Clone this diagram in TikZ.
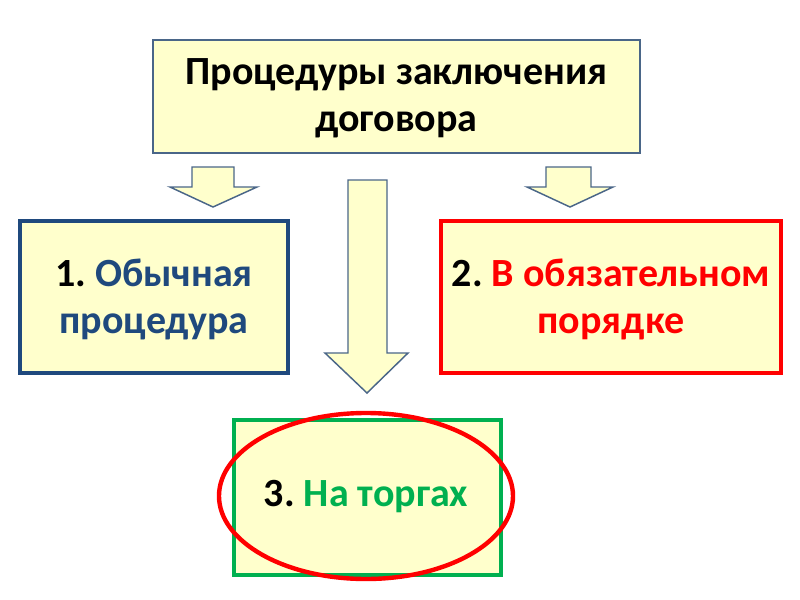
\documentclass[tikz,border=0pt]{standalone}
\usepackage{fontspec}
\setmainfont{Carlito}
\frenchspacing
\definecolor{fillY}{HTML}{FFFFCC}
\definecolor{grayblue}{HTML}{4A6688}
\definecolor{dblue}{HTML}{1F497D}
\definecolor{bred}{HTML}{FF0000}
\definecolor{bgreen}{HTML}{00B050}
\begin{document}
\begin{tikzpicture}[x=0.75pt,y=-0.75pt,
  thinbox/.style={draw=grayblue,fill=fillY,line width=1.2pt},
  thickbox/.style={fill=fillY,line width=3.3pt},
  blockarrow/.style={draw=grayblue,fill=fillY,line width=1.1pt,line join=miter},
  label/.style={font=\fontsize{30}{35.25}\selectfont\bfseries,align=center,inner sep=0pt}]
\useasboundingbox[fill=white] (0,0) rectangle (800,600);
% boxes
\draw[thinbox] (153,40) rectangle (640,153);
\node[label] (top) at (396.5,98) {Процедуры заключения\\договора};
\draw[thickbox,draw=dblue] (20,221) rectangle (288,373);
\node[label] (one) at (154,299) {1. \textcolor{dblue}{Обычная}\\\textcolor{dblue}{процедура}};
\draw[thickbox,draw=bred] (441,221) rectangle (781,373);
\node[label] (two) at (611,299) {2. \textcolor{bred}{В обязательном}\\\textcolor{bred}{порядке}};
\draw[thickbox,draw=bgreen] (234,420) rectangle (501,575);
\node[label] (three) at (366,497) {3. \textcolor{bgreen}{На торгах}};
\draw[draw=bred,line width=3.3pt] (366,496) ellipse [x radius=147, y radius=83];
% arrows
\draw[blockarrow] (192,167) -- (234,167) -- (234,187) -- (257,187) -- (213,207) -- (170,187) -- (192,187) -- cycle;
\draw[blockarrow] (546,167) -- (591,167) -- (591,187) -- (613,187) -- (570,207) -- (527,187) -- (546,187) -- cycle;
\draw[blockarrow] (348,180) -- (387,180) -- (387,353) -- (408,353) -- (367,393) -- (325,353) -- (348,353) -- cycle;
\end{tikzpicture}
\end{document}
